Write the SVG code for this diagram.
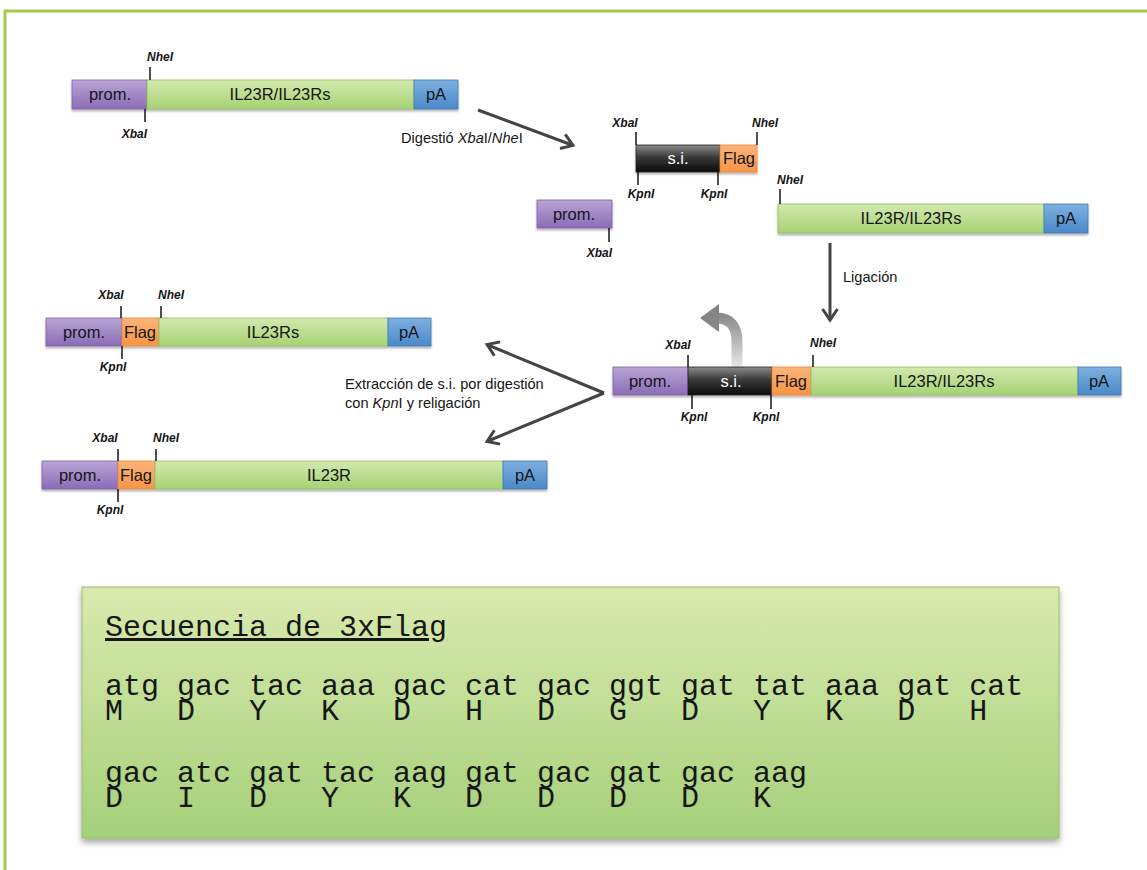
<svg xmlns="http://www.w3.org/2000/svg" width="1147" height="870" viewBox="0 0 1147 870">
<defs>
<linearGradient id="gProm" x1="0" y1="0" x2="0" y2="1"><stop offset="0" stop-color="#b9a5d6"/><stop offset="1" stop-color="#8a6cb6"/></linearGradient>
<linearGradient id="gGreen" x1="0" y1="0" x2="0" y2="1"><stop offset="0" stop-color="#d3e9ae"/><stop offset="1" stop-color="#a6d274"/></linearGradient>
<linearGradient id="gBlue" x1="0" y1="0" x2="0" y2="1"><stop offset="0" stop-color="#7eb0e0"/><stop offset="1" stop-color="#4b89c9"/></linearGradient>
<linearGradient id="gOrange" x1="0" y1="0" x2="0" y2="1"><stop offset="0" stop-color="#fbb47a"/><stop offset="1" stop-color="#f79545"/></linearGradient>
<linearGradient id="gBlack" x1="0" y1="0" x2="0" y2="1"><stop offset="0" stop-color="#8c8c8c"/><stop offset="0.45" stop-color="#3a3a3a"/><stop offset="1" stop-color="#0a0a0a"/></linearGradient>
<linearGradient id="gSeq" x1="0" y1="0" x2="0" y2="1"><stop offset="0" stop-color="#d9eaae"/><stop offset="1" stop-color="#a5d07a"/></linearGradient>
<linearGradient id="gCurve" gradientUnits="userSpaceOnUse" x1="0" y1="308" x2="0" y2="368"><stop offset="0" stop-color="#7d7d7d"/><stop offset="1" stop-color="#e8e8e8"/></linearGradient>
<filter id="sh" x="-5%" y="-20%" width="110%" height="150%"><feDropShadow dx="0" dy="2" stdDeviation="1.2" flood-color="#000" flood-opacity="0.3"/></filter>
<filter id="shBig" x="-5%" y="-5%" width="110%" height="115%"><feDropShadow dx="0" dy="4" stdDeviation="3" flood-color="#000" flood-opacity="0.35"/></filter>
<marker id="chev" markerWidth="18" markerHeight="18" refX="12" refY="9" orient="auto" markerUnits="userSpaceOnUse"><path d="M2,1.5 L13,9 L2,16.5" fill="none" stroke="#444" stroke-width="3" stroke-linejoin="miter"/></marker>
<style>
.prom{fill:url(#gProm);stroke:#7d62a6;stroke-width:0.8}
.gene{fill:url(#gGreen);stroke:#90bf60;stroke-width:0.8}
.pa{fill:url(#gBlue);stroke:#4079b6;stroke-width:0.8}
.flag{fill:url(#gOrange);stroke:#e8873c;stroke-width:0.8}
.si{fill:url(#gBlack);stroke:#222;stroke-width:0.8}
.lbl{font-family:"Liberation Sans",Arial,sans-serif;font-size:16.5px;fill:#151515;text-anchor:middle}
.wlbl{font-family:"Liberation Sans",Arial,sans-serif;font-size:16.5px;fill:#ffffff;text-anchor:middle}
.site{font-family:"Liberation Sans",Arial,sans-serif;font-style:italic;font-weight:bold;font-size:12px;fill:#151515}
.mid{text-anchor:middle}
.end{text-anchor:end}
.tick{stroke:#151515;stroke-width:1.5}
.cap{font-family:"Liberation Sans",Arial,sans-serif;font-size:14.6px;fill:#151515}
.it{font-style:italic}
.conn{stroke:#444;stroke-width:3;fill:none;marker-end:url(#chev)}
.seq{font-family:"Liberation Mono","Courier New",monospace;font-size:30px;fill:#161616;white-space:pre}
</style>
</defs>

<g id="frame" fill="none" stroke="#a4c84e" stroke-width="3">
<line x1="4" y1="11" x2="1147" y2="11"/>
<line x1="5" y1="10" x2="5" y2="870"/>
</g>

<g id="construct1">
<g filter="url(#sh)">
<rect class="prom" x="72" y="80" width="75" height="29"/>
<rect class="gene" x="147" y="80" width="267" height="29"/>
<rect class="pa" x="414" y="80" width="44" height="29"/>
</g>
<text class="lbl" x="110" y="100">prom.</text>
<text class="lbl" x="280" y="100">IL23R/IL23Rs</text>
<text class="lbl" x="436" y="100">pA</text>
<line class="tick" x1="150" y1="67" x2="150" y2="80"/>
<text class="site" x="147" y="61">NheI</text>
<line class="tick" x1="145" y1="109" x2="145" y2="122"/>
<text class="site end" x="147" y="138">XbaI</text>
</g>

<g id="fragment-si">
<g filter="url(#sh)">
<rect class="si" x="636" y="145" width="84" height="27"/>
<rect class="flag" x="720" y="145" width="37" height="27"/>
</g>
<text class="wlbl" x="678" y="164">s.i.</text>
<text class="lbl" x="739" y="164">Flag</text>
<line class="tick" x1="636" y1="132" x2="636" y2="145"/>
<text class="site mid" x="625" y="127">XbaI</text>
<line class="tick" x1="757" y1="132" x2="757" y2="145"/>
<text class="site" x="752" y="127">NheI</text>
<line class="tick" x1="638" y1="172" x2="638" y2="185"/>
<text class="site mid" x="641" y="198">KpnI</text>
<line class="tick" x1="718" y1="172" x2="718" y2="185"/>
<text class="site mid" x="714" y="198">KpnI</text>
</g>

<g id="fragment-prom">
<rect class="prom" x="537" y="200" width="75" height="28" filter="url(#sh)"/>
<text class="lbl" x="574" y="220">prom.</text>
<line class="tick" x1="609" y1="228" x2="609" y2="242"/>
<text class="site end" x="612" y="257">XbaI</text>
</g>

<g id="fragment-gene">
<g filter="url(#sh)">
<rect class="gene" x="778" y="204" width="266" height="29"/>
<rect class="pa" x="1044" y="204" width="44" height="29"/>
</g>
<text class="lbl" x="911" y="224">IL23R/IL23Rs</text>
<text class="lbl" x="1066" y="224">pA</text>
<line class="tick" x1="780" y1="189" x2="780" y2="204"/>
<text class="site" x="777" y="184">NheI</text>
</g>

<g id="construct-ligated">
<path d="M737,367 L737,342 Q737,318 716,318" fill="none" stroke="url(#gCurve)" stroke-width="11"/>
<polygon points="700,318 719,304 719,332" fill="#858585"/>
<g filter="url(#sh)">
<rect class="prom" x="613" y="367" width="75" height="28"/>
<rect class="si" x="688" y="367" width="84" height="28"/>
<rect class="flag" x="772" y="367" width="39" height="28"/>
<rect class="gene" x="811" y="367" width="267" height="28"/>
<rect class="pa" x="1078" y="367" width="43" height="28"/>
</g>
<text class="lbl" x="650" y="387">prom.</text>
<text class="wlbl" x="731" y="387">s.i.</text>
<text class="lbl" x="791" y="387">Flag</text>
<text class="lbl" x="944" y="387">IL23R/IL23Rs</text>
<text class="lbl" x="1099" y="387">pA</text>
<line class="tick" x1="688" y1="355" x2="688" y2="367"/>
<text class="site mid" x="678" y="349">XbaI</text>
<line class="tick" x1="813" y1="355" x2="813" y2="367"/>
<text class="site" x="810" y="347">NheI</text>
<line class="tick" x1="692" y1="395" x2="692" y2="409"/>
<text class="site mid" x="694" y="421">KpnI</text>
<line class="tick" x1="771" y1="395" x2="771" y2="409"/>
<text class="site mid" x="766" y="421">KpnI</text>
</g>

<g id="construct-IL23Rs">
<g filter="url(#sh)">
<rect class="prom" x="46" y="318" width="76" height="28"/>
<rect class="flag" x="122" y="318" width="37" height="28"/>
<rect class="gene" x="159" y="318" width="229" height="28"/>
<rect class="pa" x="388" y="318" width="43" height="28"/>
</g>
<text class="lbl" x="84" y="338">prom.</text>
<text class="lbl" x="140" y="338">Flag</text>
<text class="lbl" x="273" y="338">IL23Rs</text>
<text class="lbl" x="409" y="338">pA</text>
<line class="tick" x1="121" y1="306" x2="121" y2="318"/>
<text class="site mid" x="111" y="299">XbaI</text>
<line class="tick" x1="161" y1="306" x2="161" y2="318"/>
<text class="site" x="158" y="299">NheI</text>
<line class="tick" x1="122" y1="346" x2="122" y2="359"/>
<text class="site mid" x="113" y="371">KpnI</text>
</g>

<g id="construct-IL23R">
<g filter="url(#sh)">
<rect class="prom" x="42" y="461" width="76" height="28"/>
<rect class="flag" x="118" y="461" width="37" height="28"/>
<rect class="gene" x="155" y="461" width="348" height="28"/>
<rect class="pa" x="503" y="461" width="44" height="28"/>
</g>
<text class="lbl" x="80" y="481">prom.</text>
<text class="lbl" x="136" y="481">Flag</text>
<text class="lbl" x="329" y="481">IL23R</text>
<text class="lbl" x="525" y="481">pA</text>
<line class="tick" x1="118" y1="449" x2="118" y2="461"/>
<text class="site mid" x="105" y="442">XbaI</text>
<line class="tick" x1="156" y1="449" x2="156" y2="461"/>
<text class="site" x="153" y="442">NheI</text>
<line class="tick" x1="118" y1="489" x2="118" y2="502"/>
<text class="site mid" x="110" y="514">KpnI</text>
</g>

<g id="connectors">
<line class="conn" x1="478" y1="110" x2="572" y2="145"/>
<line class="conn" x1="830" y1="243" x2="830" y2="319"/>
<line class="conn" x1="604" y1="393" x2="488" y2="345"/>
<line class="conn" x1="604" y1="393" x2="488" y2="441"/>
</g>

<g id="connector-labels">
<text class="cap" x="401" y="143">Digestió <tspan class="it">Xba</tspan>I/<tspan class="it">Nhe</tspan>I</text>
<text class="cap" x="843" y="282">Ligación</text>
<text class="cap" x="345" y="389">Extracción de s.i. por digestión</text>
<text class="cap" x="345" y="408">con <tspan class="it">Kpn</tspan>I y religación</text>
</g>

<g id="sequence-box">
<rect x="82" y="587" width="977" height="251" fill="url(#gSeq)" stroke="#93c062" stroke-width="1" filter="url(#shBig)"/>
<text class="seq" x="105" y="636" text-decoration="underline">Secuencia de 3xFlag</text>
<text class="seq" x="105" y="695">atg gac tac aaa gac cat gac ggt gat tat aaa gat cat</text>
<text class="seq" x="105" y="720">M   D   Y   K   D   H   D   G   D   Y   K   D   H</text>
<text class="seq" x="105" y="782">gac atc gat tac aag gat gac gat gac aag</text>
<text class="seq" x="105" y="807">D   I   D   Y   K   D   D   D   D   K</text>
</g>
</svg>
